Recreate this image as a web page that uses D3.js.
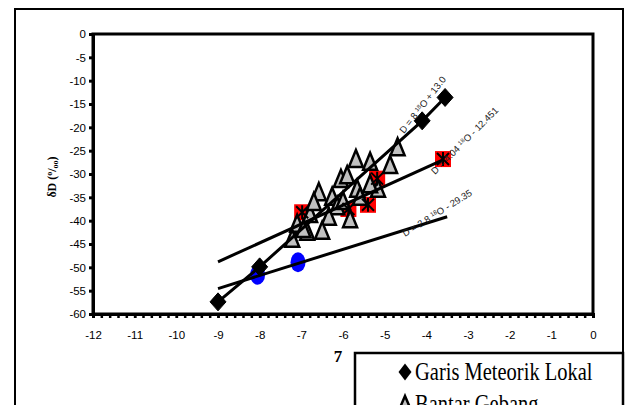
<!DOCTYPE html>
<html>
<head>
<meta charset="utf-8">
<script src="https://cdn.jsdelivr.net/npm/d3@7"></script>
<style>
  body { margin: 0; background: #fff; }
  svg { display: block; }
</style>
</head>
<body>
<div id="chart"></div>
<script>

// Garis Meteorik Lokal (diamonds joined by a line)
const meteoricX = [-9, -8, -4.1, -3.55];
const meteoricY = [-57.4, -49.9, -18.6, -13.6];

// Bantar Gebang (grey triangles)
const bantarX = [-4.69, -4.87, -5.69, -5.35, -6.05, -5.66, -5.16, -6.58, -6.26, -5.59, -6.14, -6.79, -6.34, -5.83, -7.10, -6.86, -6.50, -7.22, -5.35, -6.7, -6.0, -6.95, -5.9];
const bantarY = [-24.5, -28.3, -27.0, -27.6, -31.3, -33.4, -33.4, -34.1, -35.1, -35.1, -37.1, -38.8, -39.4, -39.9, -40.9, -42.6, -42.4, -44.1, -32.4, -36.2, -36.0, -42.0, -30.5];

// red squares with asterisk
const redX = [-3.6, -5.18, -5.4, -5.87, -6.98];
const redY = [-26.8, -31.0, -36.6, -37.5, -38.2];

// blue circles
const blueX = [-8.05, -7.08];
const blueY = [-51.6, -48.9];

// trend lines  dD = a * d18O + b
const trendSlope = [4.04, 2.8];
const trendIntercept = [-12.451, -29.35];
const trendFrom = [-9, -9];
const trendTo = [-3.6, -3.5];

const xTicks = [-12, -11, -10, -9, -8, -7, -6, -5, -4, -3, -2, -1, 0];
const yTicks = [0, -5, -10, -15, -20, -25, -30, -35, -40, -45, -50, -55, -60];
const legendLabels = ['Garis Meteorik Lokal', 'Bantar Gebang'];


var width = 627;
var height = 405;

var svg = d3.select('#chart').append('svg')
    .attr('width', width)
    .attr('height', height)

var x = d3.scaleLinear().domain([-12, 0]).range([93, 593]);
var y = d3.scaleLinear().domain([-60, 0]).range([314, 34]);

// outer frame
svg.append('rect')
    .attr('x', 15).attr('y', 9)
    .attr('width', 608).attr('height', 430)
    .attr('fill', 'none').attr('stroke', '#000').attr('stroke-width', 2)

// plot box
svg.append('rect')
    .attr('x', x(-12)).attr('y', y(0))
    .attr('width', x(0) - x(-12)).attr('height', y(-60) - y(0))
    .attr('fill', '#fff').attr('stroke', '#000').attr('stroke-width', 3)

// minor ticks on bottom axis
svg.append('g')
    .attr('transform', `translate(0,${y(-60)})`)
    .call(d3.axisBottom(x).tickValues(d3.range(-12, 0.001, 0.2)).tickSize(4).tickFormat(''))
    .call(g => g.select('.domain').remove())
    .call(g => g.selectAll('line').attr('stroke-width', 2.5))

var xAxis = svg.append('g')
    .attr('transform', `translate(0,${y(-60)})`)
    .call(d3.axisBottom(x).tickValues(xTicks).tickSize(4).tickPadding(13).tickFormat(d => String(d)))
xAxis.select('.domain').attr('stroke-width', 3)
xAxis.selectAll('line').attr('stroke-width', 2.5)
xAxis.selectAll('text').attr('font-family', 'Liberation Sans, Arial').attr('font-size', 11.5).attr('fill', '#000')

var yAxis = svg.append('g')
    .attr('transform', `translate(${x(-12)},0)`)
    .call(d3.axisLeft(y).tickValues(yTicks).tickSize(4).tickPadding(3).tickFormat(d => String(d)))
yAxis.select('.domain').attr('stroke-width', 3)
yAxis.selectAll('line').attr('stroke-width', 3)
yAxis.selectAll('text').attr('font-family', 'Liberation Sans, Arial').attr('font-size', 11.5).attr('fill', '#000')

// y axis title
var yt = svg.append('text')
    .attr('transform', 'translate(56,177) rotate(-90)')
    .attr('text-anchor', 'middle')
    .attr('font-family', 'Liberation Serif, Times New Roman')
    .attr('font-weight', 'bold')
    .attr('font-size', 12)
yt.append('tspan').text('δD (')
yt.append('tspan').attr('font-size', 8).attr('dy', -4).text('o')
yt.append('tspan').attr('dy', 4).text('/')
yt.append('tspan').attr('font-size', 8).attr('dy', 2).text('oo')
yt.append('tspan').attr('dy', -2).text(')')

var plot = svg.append('g')

// red squares
plot.selectAll('.red')
    .data(d3.range(redX.length))
    .enter()
    .append('rect')
    .attr('x', i => x(redX[i]) - 8)
    .attr('y', i => y(redY[i]) - 8)
    .attr('width', 16).attr('height', 16)
    .attr('fill', '#ff0000')

// triangles
plot.selectAll('.tri')
    .data(d3.range(bantarX.length))
    .enter()
    .append('path')
    .attr('transform', i => `translate(${x(bantarX[i])},${y(bantarY[i])})`)
    .attr('d', 'M0,-10L7,7L-7,7Z')
    .attr('fill', '#c0c0c0')
    .attr('stroke', '#000')
    .attr('stroke-width', 2.5)
    .attr('stroke-linejoin', 'miter')

// blue circles
plot.selectAll('.blue')
    .data(d3.range(blueX.length))
    .enter()
    .append('ellipse')
    .attr('cx', i => x(blueX[i]))
    .attr('cy', i => y(blueY[i]))
    .attr('rx', 7.5).attr('ry', 10)
    .attr('fill', '#0000ff')

// trend lines
plot.selectAll('.trend')
    .data(d3.range(trendSlope.length))
    .enter()
    .append('line')
    .attr('x1', i => x(trendFrom[i]))
    .attr('y1', i => y(trendSlope[i] * trendFrom[i] + trendIntercept[i]))
    .attr('x2', i => x(trendTo[i]))
    .attr('y2', i => y(trendSlope[i] * trendTo[i] + trendIntercept[i]))
    .attr('stroke', '#000')
    .attr('stroke-width', 3)

// meteoric line
var line = d3.line().x(i => x(meteoricX[i])).y(i => y(meteoricY[i]))
plot.append('path')
    .attr('d', line(d3.range(meteoricX.length)))
    .attr('fill', 'none')
    .attr('stroke', '#000')
    .attr('stroke-width', 3)

// diamonds
plot.selectAll('.dia')
    .data(d3.range(meteoricX.length))
    .enter()
    .append('path')
    .attr('transform', i => `translate(${x(meteoricX[i])},${y(meteoricY[i])})`)
    .attr('d', 'M0,-9L8,0L0,9L-8,0Z')
    .attr('fill', '#000')
    .attr('stroke', '#000')
    .attr('stroke-width', 1)

// asterisks over red squares
plot.selectAll('.ast')
    .data(d3.range(redX.length))
    .enter()
    .append('path')
    .attr('transform', i => `translate(${x(redX[i])},${y(redY[i])})`)
    .attr('d', 'M-6,-6L6,6M-6,6L6,-6M0,-7L0,7')
    .attr('stroke', '#000')
    .attr('stroke-width', 2)

// equation labels
function eqLabel(px, py, angle, pre, post) {
    var t = svg.append('text')
        .attr('transform', `translate(${px},${py}) rotate(${angle})`)
        .attr('font-family', 'Liberation Sans, Arial')
        .attr('font-size', 9.5)
        .attr('fill', '#222')
    t.append('tspan').text(pre)
    t.append('tspan').attr('font-size', 6).attr('dy', -3).text('18')
    t.append('tspan').attr('dy', 3).text(post)
}
eqLabel(404, 134, -52, 'D = 8 ', 'O + 13.0')
eqLabel(435, 175, -45, 'D = 4.04 ', 'O - 12.451')
eqLabel(405, 237, -32, 'D = 2.8 ', 'O - 29.35')

// "7"
svg.append('text')
    .attr('x', 338).attr('y', 362)
    .attr('text-anchor', 'middle')
    .attr('font-family', 'Liberation Serif, Times New Roman')
    .attr('font-weight', 'bold')
    .attr('font-size', 17)
    .text('7')

// legend
svg.append('rect')
    .attr('x', 355).attr('y', 353)
    .attr('width', 268).attr('height', 80)
    .attr('fill', '#fff').attr('stroke', '#000').attr('stroke-width', 2.5)

var lg = svg.append('g')
lg.append('path')
    .attr('transform', 'translate(405,372)')
    .attr('d', 'M0,-8.5L6.5,0L0,8.5L-6.5,0Z')
    .attr('fill', '#000')
lg.append('path')
    .attr('transform', 'translate(405,404)')
    .attr('d', 'M0,-8L6,6L-6,6Z')
    .attr('fill', '#c0c0c0').attr('stroke', '#000').attr('stroke-width', 2.5)

// serif text, drawn narrow and tall like the original
lg.selectAll('.lt')
    .data(legendLabels)
    .enter()
    .append('text')
    .attr('transform', (d, i) => `translate(415,${380 + i * 32}) scale(1,1.22)`)
    .attr('font-family', 'Liberation Serif, Times New Roman')
    .attr('font-size', 20.5)
    .text(d => d)

</script>
</body>
</html>
